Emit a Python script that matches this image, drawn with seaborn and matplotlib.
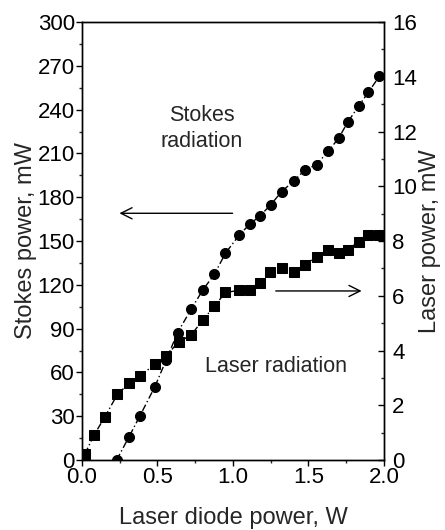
import numpy as np
import pandas as pd
import seaborn as sns
import matplotlib.pyplot as plt
from matplotlib.ticker import MultipleLocator

# Stokes radiation (left axis, mW)
stokes_x = [0.23, 0.31, 0.385, 0.483, 0.558, 0.633, 0.724, 0.80, 0.877, 0.95, 1.043, 1.112,
            1.178, 1.249, 1.322, 1.404, 1.475, 1.553, 1.63, 1.70, 1.759, 1.832, 1.896, 1.969]
stokes_y = [0, 15.5, 30.4, 50.2, 68.5, 87.2, 103.4, 116.4, 127.2, 141.6, 154.3, 161.6,
            167.1, 174.7, 183.8, 191.3, 198.6, 202.3, 211.4, 220.5, 231.3, 242.5, 251.8, 262.8]

# Laser radiation (right axis, mW)
laser_x = [0.02, 0.08, 0.153, 0.235, 0.312, 0.385, 0.483, 0.558, 0.64, 0.722, 0.80, 0.877, 0.95,
           1.043, 1.112, 1.178, 1.245, 1.322, 1.404, 1.475, 1.553, 1.63, 1.70, 1.759, 1.832,
           1.896, 1.969]
laser_y = [0.22, 0.91, 1.58, 2.40, 2.80, 3.08, 3.49, 3.80, 4.32, 4.56, 5.11, 5.62, 6.12,
           6.20, 6.20, 6.47, 6.87, 7.02, 6.87, 7.14, 7.42, 7.69, 7.57, 7.69, 7.97, 8.21, 8.21]

sns.set_style("ticks")
plt.rcParams['font.family'] = ['Liberation Sans', 'DejaVu Sans']

fig = plt.figure(figsize=(4.45, 5.3), dpi=100)
ax = fig.add_axes([0.184, 0.132, 0.679, 0.8265])
ax2 = ax.twinx()

dash = (0, (5, 2, 1, 2))
sns.lineplot(x=stokes_x, y=stokes_y, ax=ax, color='black', marker='o', markersize=7.2,
             markeredgecolor='black', linestyle=dash, linewidth=1, sort=False)
sns.lineplot(x=laser_x, y=laser_y, ax=ax2, color='black', marker='s', markersize=6.5,
             markeredgecolor='black', linestyle=dash, linewidth=1, sort=False)

ax.set_xlim(0, 2.0)
ax.set_ylim(0, 300)
ax2.set_ylim(0, 16)

ax.xaxis.set_major_locator(MultipleLocator(0.5))
ax.xaxis.set_minor_locator(MultipleLocator(0.25))
ax.yaxis.set_major_locator(MultipleLocator(30))
ax.yaxis.set_minor_locator(MultipleLocator(15))
ax2.yaxis.set_major_locator(MultipleLocator(2))
ax2.yaxis.set_minor_locator(MultipleLocator(1))
ax.xaxis.set_major_formatter(plt.FormatStrFormatter('%.1f'))

ax.tick_params(axis='both', which='major', direction='out', length=4, width=1,
               labelsize=16, pad=1, colors='black')
ax.tick_params(axis='both', which='minor', direction='out', length=2.5, width=1)
ax2.tick_params(axis='y', which='major', direction='in', length=4, width=1,
                labelsize=16, pad=6, colors='black')
ax2.tick_params(axis='y', which='minor', direction='in', length=2.5, width=1)

for a in (ax, ax2):
    for s in a.spines.values():
        s.set_visible(True)
        s.set_color('black')
        s.set_linewidth(1)

ax.set_xlabel('Laser diode power, W', fontsize=17, labelpad=13.5)
ax.set_ylabel('Stokes power, mW', fontsize=17, labelpad=0.5)
ax2.set_ylabel('Laser power, mW', fontsize=17, labelpad=1)

ax.text(0.795, 227, 'Stokes\nradiation', ha='center', va='center', fontsize=15.5,
        linespacing=1.3)
ax.annotate('', xy=(0.23, 169), xytext=(1.016, 169),
            arrowprops=dict(arrowstyle='->', color='black', lw=1, mutation_scale=20))
ax.text(1.282, 64, 'Laser radiation', ha='center', va='center', fontsize=15.5)
ax.annotate('', xy=(1.87, 115.8), xytext=(1.265, 115.8),
            arrowprops=dict(arrowstyle='->', color='black', lw=1, mutation_scale=20))

fig.savefig('out.png', dpi=100)
